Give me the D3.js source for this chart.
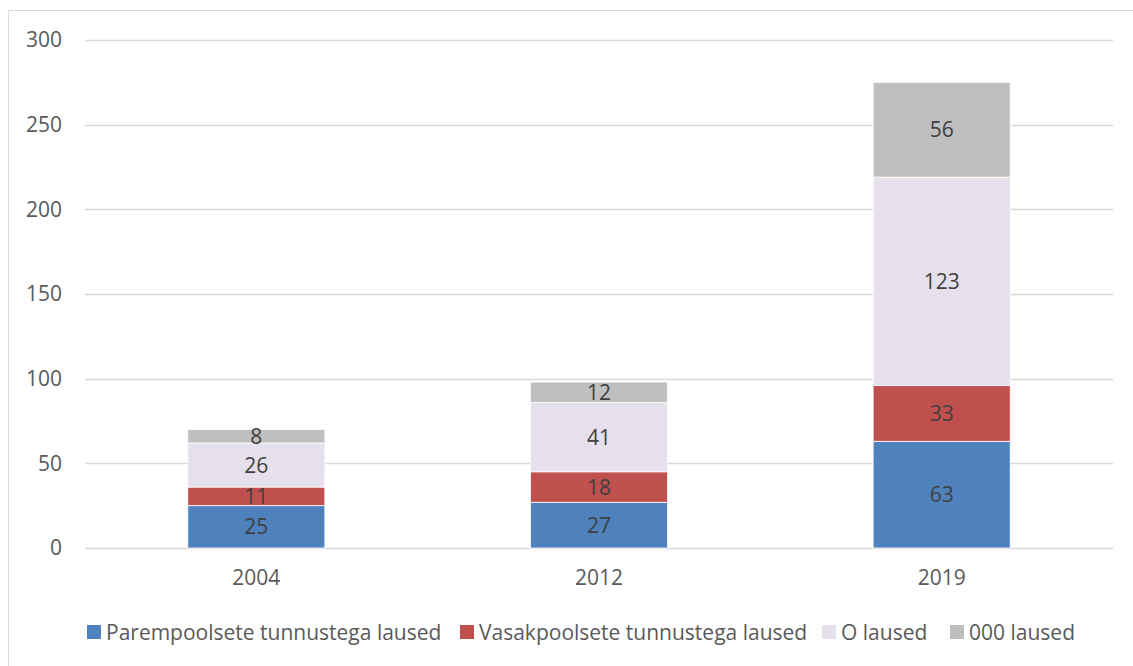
<!DOCTYPE html>
<html>
<head>
<meta charset="utf-8">
<script src="https://cdn.jsdelivr.net/npm/d3@7"></script>
<style>
  body { margin: 0; background: #fff; }
  text { font-family: "Open Sans", "Liberation Sans", sans-serif; }
</style>
</head>
<body>
<div id="chart"></div>
<script>
// chart data
const years = ["2004", "2012", "2019"];
const seriesNames = ["Parempoolsete tunnustega laused", "Vasakpoolsete tunnustega laused", "O laused", "000 laused"];
const parempoolsete = [25, 27, 63];
const vasakpoolsete = [11, 18, 33];
const oLaused = [26, 41, 123];
const nullLaused = [8, 12, 56];
const yTicks = [0, 50, 100, 150, 200, 250, 300];
const colors = ["#4f81bd", "#c0504d", "#e6e0ec", "#bfbfbf"];

const width = 1133, height = 666;
const margin = {top: 40, right: 20, bottom: 118, left: 85};
const fontSize = 21;

const rows = years.map((y, i) => ({
  year: y,
  s0: parempoolsete[i], s1: vasakpoolsete[i], s2: oLaused[i], s3: nullLaused[i]
}));
const keys = ["s0", "s1", "s2", "s3"];
const stacked = d3.stack().keys(keys)(rows);

const svg = d3.select("#chart").append("svg")
  .attr("width", width)
  .attr("height", height);

// outer frame
svg.append("rect")
  .attr("x", 8.5).attr("y", 10.5)
  .attr("width", width + 20).attr("height", height + 20)
  .attr("fill", "none")
  .attr("stroke", "#d9d9d9");

const x = d3.scaleBand().domain(years)
  .range([margin.left, width - margin.right])
  .paddingInner(0.6).paddingOuter(0.3);
const y = d3.scaleLinear().domain([0, 300])
  .range([height - margin.bottom, margin.top]);

// gridlines
svg.append("g")
  .selectAll("line")
  .data(yTicks)
  .join("line")
    .attr("x1", margin.left).attr("x2", width - margin.right)
    .attr("y1", d => Math.round(y(d)) + 0.5).attr("y2", d => Math.round(y(d)) + 0.5)
    .attr("stroke", "#d9d9d9").attr("stroke-width", 1.3);

// y labels
const yAxis = g => g
  .attr("transform", `translate(${margin.left - 23},0)`)
  .call(d3.axisLeft(y).tickValues(yTicks).tickSize(0).tickPadding(0))
  .call(g => g.select(".domain").remove())
  .call(g => g.selectAll("text")
    .attr("fill", "#595959")
    .attr("font-size", fontSize)
    .attr("font-family", "'Open Sans', 'Liberation Sans', sans-serif"));
svg.append("g").call(yAxis);

// x labels
const xAxis = g => g
  .attr("transform", `translate(0,${height - margin.bottom})`)
  .call(d3.axisBottom(x).tickSize(0).tickPadding(22))
  .call(g => g.select(".domain").remove())
  .call(g => g.selectAll("text")
    .attr("fill", "#595959")
    .attr("font-size", fontSize)
    .attr("font-family", "'Open Sans', 'Liberation Sans', sans-serif"));
svg.append("g").call(xAxis);

// bars
const layers = svg.append("g")
  .selectAll("g")
  .data(stacked)
  .join("g")
    .attr("fill", (d, i) => colors[i]);

layers.selectAll("rect")
  .data(d => d)
  .join("rect")
    .attr("x", d => x(d.data.year))
    .attr("width", x.bandwidth())
    .attr("y", d => y(d[1]))
    .attr("height", d => y(d[0]) - y(d[1]))
    .attr("stroke", "#fff")
    .attr("stroke-width", 0.8);

// value labels
layers.selectAll("text")
  .data(d => d.map(v => ({v, key: d.key})))
  .join("text")
    .attr("x", d => x(d.v.data.year) + x.bandwidth() / 2)
    .attr("y", d => (y(d.v[0]) + y(d.v[1])) / 2)
    .attr("dy", "0.36em")
    .attr("text-anchor", "middle")
    .attr("fill", "#404040")
    .attr("font-size", fontSize)
    .text(d => d.v.data[d.key]);

// legend
const legendItems = [
  {name: seriesNames[0], x: 87},
  {name: seriesNames[1], x: 460},
  {name: seriesNames[2], x: 822},
  {name: seriesNames[3], x: 950}
];
const legend = svg.append("g").attr("transform", "translate(0,632)");
const li = legend.selectAll("g")
  .data(legendItems)
  .join("g")
    .attr("transform", d => `translate(${d.x},0)`);
li.append("rect")
  .attr("x", 0).attr("y", -7)
  .attr("width", 14).attr("height", 14)
  .attr("fill", (d, i) => colors[i]);
li.append("text")
  .attr("x", 19)
  .attr("dy", "0.36em")
  .attr("fill", "#595959")
  .attr("font-size", fontSize)
  .text(d => d.name);
</script>
</body>
</html>
